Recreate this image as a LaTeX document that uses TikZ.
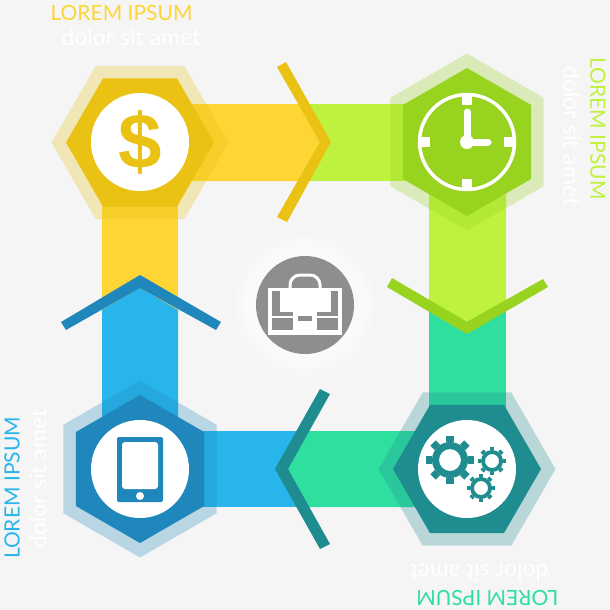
\documentclass[tikz,border=0pt]{standalone}
\usepackage{fontspec}
\setmainfont{Lato}
\newfontfamily\moneyfont{Liberation Sans}
\usepackage{tikz}
\usetikzlibrary{shapes.geometric}
\definecolor{pagebg}{HTML}{F5F5F5}
\definecolor{goldband}{HTML}{FDD535}
\definecolor{goldhex}{HTML}{E9C214}
\definecolor{limeband}{HTML}{BEF23F}
\definecolor{limehex}{HTML}{97D31F}
\definecolor{mintband}{HTML}{2EDFA0}
\definecolor{tealhex}{HTML}{1F8C8F}
\definecolor{skyband}{HTML}{28B5EB}
\definecolor{bluehex}{HTML}{1F87BB}
\definecolor{greydisc}{HTML}{8E8E8E}
\tikzset{
	hexa/.style={regular polygon, regular polygon sides=6, inner sep=0, outer sep=0},
	hexinner/.style={hexa, minimum size=148pt},
	hexouter/.style={hexa, minimum size=177pt, opacity=0.28},
	disc/.style={circle, fill=white, inner sep=0, minimum size=98pt},
	title/.style={font=\fontsize{21}{21}\selectfont, inner sep=0},
	subtitle/.style={font=\fontsize{23}{23}\selectfont, text=white, inner sep=0}
}
% one gear: x, y, outer radius, body radius, hole radius, teeth
\newcommand{\gearat}[6]{
	\foreach \a in {1,...,#6}
		\draw[tealhex, line width=0.32*#3 pt] (#1,#2) ++({\a*360/#6}:#4) -- ++({\a*360/#6}:{#3-#4});
	\fill[tealhex, even odd rule] (#1,#2) circle[radius=#4] (#1,#2) circle[radius=#5];
}
\begin{document}
\begin{tikzpicture}[x=1pt,y=-1pt]
\useasboundingbox (0,0) rectangle (610,610);
\fill[pagebg] (0,0) rectangle (610,610);

% bands
\fill[goldband] (102,180) rectangle (178,320);
\fill[limeband] (290,104) rectangle (430,181);
\fill[mintband] (429,300) rectangle (506,430);
\fill[skyband] (180,431) rectangle (315,507);
\fill[goldband] (160,104) -- (298,104) -- (320,142) -- (298,181) -- (160,181) -- cycle;
\fill[limeband] (429,170) -- (429,300) -- (467,322) -- (506,300) -- (506,170) -- cycle;
\fill[mintband] (420,431) -- (309,431) -- (288,469) -- (309,507) -- (420,507) -- cycle;
\fill[skyband] (102,440) -- (102,310) -- (140,288) -- (178,310) -- (178,440) -- cycle;

% hexagons
\node[hexouter, fill=goldhex] (goldback) at (140,142.5) {};
\node[hexinner, fill=goldhex] (goldfront) at (140,142.5) {};
\node[hexouter, fill=limehex, shape border rotate=30] (limeback) at (467,142) {};
\node[hexinner, fill=limehex, shape border rotate=30] (limefront) at (467,142) {};
\node[hexouter, fill=tealhex] (tealback) at (467,469) {};
\node[hexinner, fill=tealhex] (tealfront) at (467,469) {};
\node[hexouter, fill=bluehex, shape border rotate=30] (blueback) at (140,469) {};
\node[hexinner, fill=bluehex, shape border rotate=30] (bluefront) at (140,469) {};

% chevrons
\fill[goldhex] (277,67) -- (286,62) -- (331,142) -- (287,222) -- (277,217) -- (320,142) -- cycle;
\fill[limehex] (392,278) -- (467,322) -- (543,279) -- (548,287) -- (467,334) -- (387,287) -- cycle;
\fill[tealhex] (320,389) -- (330,394) -- (288,469) -- (330,544) -- (320,549) -- (275,469) -- cycle;
\fill[bluehex] (61,322) -- (140,275) -- (221,322) -- (216,330) -- (140,288) -- (66,330) -- cycle;

% middle
\foreach \r in {72,69,...,54}
	\fill[white, opacity=0.18] (305,305) circle[radius=\r];
\node[disc, fill=greydisc] (casedisc) at (305,305) {};
\fill[white] (268,287.5) rectangle (342,335);
\fill[greydisc] (272,291) rectangle (338,316);
\fill[white] (280,287.5) rectangle (331,312);
\fill[greydisc] (272,318) rectangle (293,330);
\fill[greydisc] (317,318) rectangle (338,330);
\fill[white] (293,312) rectangle (317,327);
\fill[greydisc] (298,316) rectangle (312,321);
\draw[white, line width=3pt] (290,288) -- (290,285) arc[start angle=180, end angle=270, radius=10] -- (310,275) arc[start angle=270, end angle=360, radius=10] -- (320,288);

% money
\node[disc] (golddisc) at (140,142) {};
\node[inner sep=0, text=goldhex, font=\fontsize{78}{78}\selectfont\moneyfont\bfseries] (dollar) at (140,142) {\$};

% clock
\draw[white, line width=3.5pt] (467,142) circle[radius=47.5];
\foreach \a in {0,90,180,270}
	\fill[white, rotate around={\a:(467,142)}] (462,93) rectangle (472,105);
\draw[white, line width=7pt, line cap=round] (467,112) -- (467,142) -- (488,142);
\fill[white] (467,142) circle[radius=7];

% gears
\node[disc] (geardisc) at (467,469) {};
\gearat{450}{460}{24}{18}{11}{8}
\gearat{492}{461}{14}{11}{7}{8}
\gearat{481}{488}{14}{11}{7}{8}

% tablet
\node[disc] (tabletdisc) at (140,469) {};
\fill[bluehex, rounded corners=2pt] (117,437) rectangle (163,502);
\fill[white, rounded corners=3pt] (122,442) rectangle (158,489);
\fill[white] (140,496) circle[radius=4];

% texts
\node[title, text=goldband] (goldtitle) at (121.5,12.5) {LOREM IPSUM};
\node[subtitle] (goldsub) at (131,37) {dolor sit amet};
\node[title, text=limeband, rotate=-90] (limetitle) at (598,128.5) {LOREM IPSUM};
\node[subtitle, rotate=-90] (limesub) at (572,136) {dolor sit amet};
\node[title, text=mintband, rotate=180] (mintitle) at (487.5,598) {LOREM IPSUM};
\node[subtitle, rotate=180] (mintsub) at (479,573) {dolor sit amet};
\node[title, text=skyband, rotate=90] (skytitle) at (12,488) {LOREM IPSUM};
\node[subtitle, rotate=90] (skysub) at (38,479) {dolor sit amet};
\end{tikzpicture}
\end{document}
